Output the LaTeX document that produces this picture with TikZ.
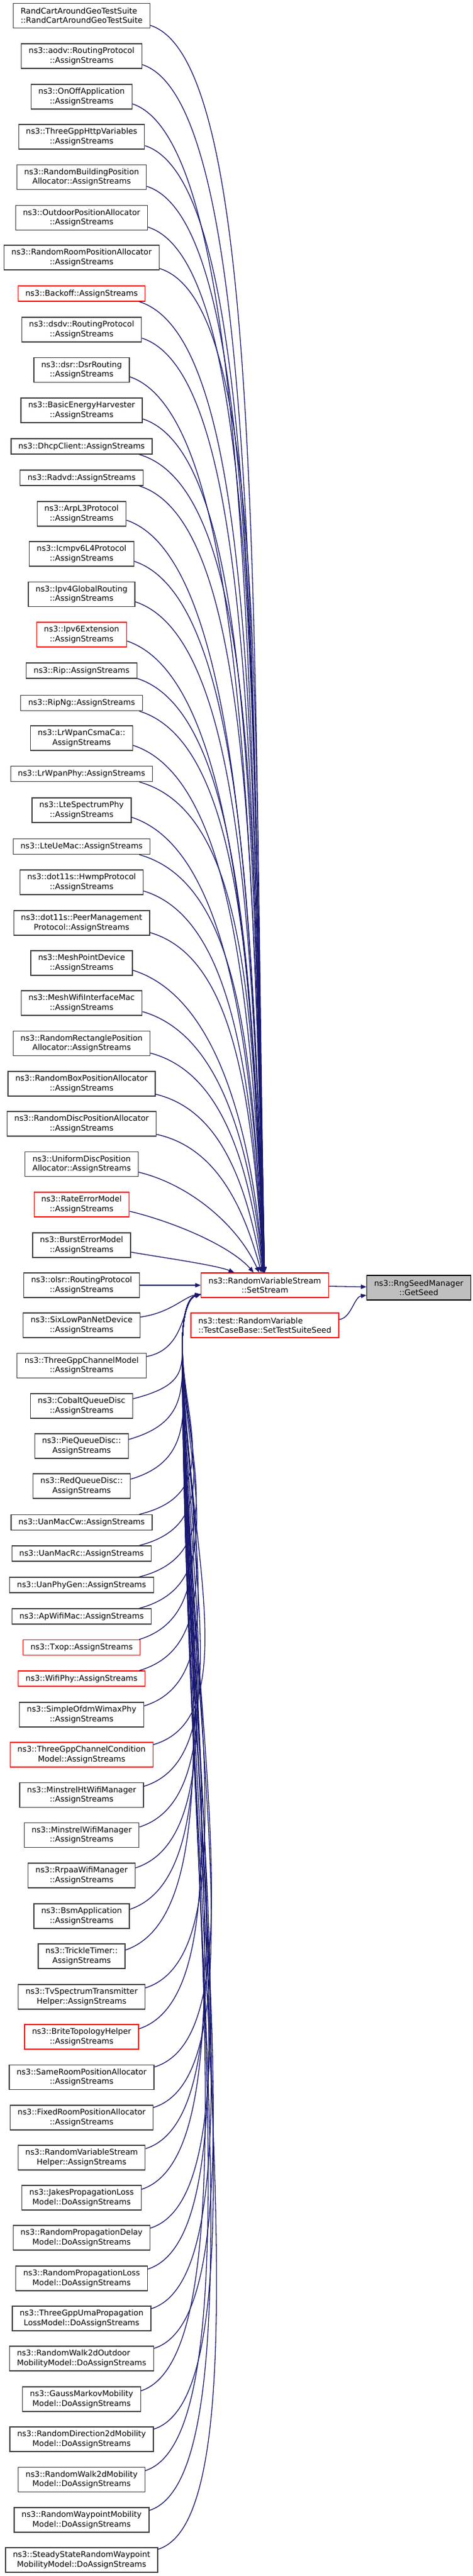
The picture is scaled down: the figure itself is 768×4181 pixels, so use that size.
\documentclass[tikz,border=0pt]{standalone}
\usepackage{fontspec}
\setmainfont{DejaVu Sans}
\usepackage{tikz}
\usetikzlibrary{arrows.meta}
\usetikzlibrary{calc}
\definecolor{midblue}{HTML}{191970}
\definecolor{boxgrey}{HTML}{404040}
\definecolor{focusgrey}{HTML}{BFBFBF}

\begin{document}
\begin{tikzpicture}[
    x=1pt, y=-1pt,
    fn/.style={draw=boxgrey, line width=1.3pt, fill=white, align=center,
      inner xsep=12pt, inner ysep=6pt, minimum height=25pt,
      font=\fontsize{12.8}{15.3}\selectfont},
    fn2/.style={fn, minimum height=40pt},
    cut/.style={draw=red},
    focus/.style={draw=black, fill=focusgrey},
    call/.style={>={Triangle[length=9pt,width=7pt]}, <-, draw=midblue, line width=1.3pt}
    ]
    \useasboundingbox (0,0) rectangle (768,4181);

    % callers of SetStream
    \node[fn2, align=left] (randcart) at (132.5,25.5) {RandCartAroundGeoTestSuite\\::RandCartAroundGeoTestSuite};
    \node[fn2] (aodv) at (132.5,91) {ns3::aodv::RoutingProtocol\\::AssignStreams};
    \node[fn2] (onoff) at (132.5,157) {ns3::OnOffApplication\\::AssignStreams};
    \node[fn2] (httpvar) at (132.5,222) {ns3::ThreeGppHttpVariables\\::AssignStreams};
    \node[fn2] (buildpos) at (132.5,287.5) {ns3::RandomBuildingPosition\\Allocator::AssignStreams};
    \node[fn2] (outdoor) at (132.5,353.5) {ns3::OutdoorPositionAllocator\\::AssignStreams};
    \node[fn2] (roompos) at (132.5,418) {ns3::RandomRoomPositionAllocator\\::AssignStreams};
    \node[fn, cut] (backoff) at (132.5,476.5) {ns3::Backoff::AssignStreams};
    \node[fn2] (dsdv) at (132.5,535) {ns3::dsdv::RoutingProtocol\\::AssignStreams};
    \node[fn2] (dsr) at (132.5,600.5) {ns3::dsr::DsrRouting\\::AssignStreams};
    \node[fn2] (harvester) at (132.5,666) {ns3::BasicEnergyHarvester\\::AssignStreams};
    \node[fn] (dhcp) at (132.5,724.5) {ns3::DhcpClient::AssignStreams};
    \node[fn] (radvd) at (132.5,775.5) {ns3::Radvd::AssignStreams};
    \node[fn2] (arp) at (132.5,834) {ns3::ArpL3Protocol\\::AssignStreams};
    \node[fn2] (icmp) at (132.5,899) {ns3::Icmpv6L4Protocol\\::AssignStreams};
    \node[fn2] (ipv4gr) at (132.5,964.5) {ns3::Ipv4GlobalRouting\\::AssignStreams};
    \node[fn2, cut] (ipv6ext) at (132.5,1030) {ns3::Ipv6Extension\\::AssignStreams};
    \node[fn] (rip) at (132.5,1088.5) {ns3::Rip::AssignStreams};
    \node[fn] (ripng) at (132.5,1141) {ns3::RipNg::AssignStreams};
    \node[fn2] (csmaca) at (132.5,1198) {ns3::LrWpanCsmaCa::\\AssignStreams};
    \node[fn] (lrphy) at (132.5,1256) {ns3::LrWpanPhy::AssignStreams};
    \node[fn2] (ltephy) at (132.5,1315) {ns3::LteSpectrumPhy\\::AssignStreams};
    \node[fn] (uemac) at (132.5,1374) {ns3::LteUeMac::AssignStreams};
    \node[fn2] (hwmp) at (132.5,1432) {ns3::dot11s::HwmpProtocol\\::AssignStreams};
    \node[fn2] (peer) at (132.5,1498) {ns3::dot11s::PeerManagement\\Protocol::AssignStreams};
    \node[fn2] (meshpoint) at (132.5,1563) {ns3::MeshPointDevice\\::AssignStreams};
    \node[fn2] (meshmac) at (132.5,1628) {ns3::MeshWifiInterfaceMac\\::AssignStreams};
    \node[fn2] (rectpos) at (132.5,1693.5) {ns3::RandomRectanglePosition\\Allocator::AssignStreams};
    \node[fn2] (boxpos) at (132.5,1759) {ns3::RandomBoxPositionAllocator\\::AssignStreams};
    \node[fn2] (discpos) at (132.5,1824) {ns3::RandomDiscPositionAllocator\\::AssignStreams};
    \node[fn2] (unidisc) at (132.5,1889.5) {ns3::UniformDiscPosition\\Allocator::AssignStreams};
    \node[fn2, cut] (rateerr) at (132.5,1955) {ns3::RateErrorModel\\::AssignStreams};
    \node[fn2] (bursterr) at (132.5,2021) {ns3::BurstErrorModel\\::AssignStreams};
    \node[fn2] (olsr) at (132.5,2086) {ns3::olsr::RoutingProtocol\\::AssignStreams};
    \node[fn2] (sixlow) at (132.5,2151) {ns3::SixLowPanNetDevice\\::AssignStreams};
    \node[fn2] (chanmodel) at (132.5,2216.5) {ns3::ThreeGppChannelModel\\::AssignStreams};
    \node[fn2] (cobalt) at (132.5,2282) {ns3::CobaltQueueDisc\\::AssignStreams};
    \node[fn2] (pie) at (132.5,2347) {ns3::PieQueueDisc::\\AssignStreams};
    \node[fn2] (redq) at (132.5,2412) {ns3::RedQueueDisc::\\AssignStreams};
    \node[fn] (uancw) at (132.5,2471) {ns3::UanMacCw::AssignStreams};
    \node[fn] (uanrc) at (132.5,2521.5) {ns3::UanMacRc::AssignStreams};
    \node[fn] (uanphy) at (132.5,2572.5) {ns3::UanPhyGen::AssignStreams};
    \node[fn] (apmac) at (132.5,2623.5) {ns3::ApWifiMac::AssignStreams};
    \node[fn, cut] (txop) at (132.5,2674) {ns3::Txop::AssignStreams};
    \node[fn, cut] (wifiphy) at (132.5,2724.5) {ns3::WifiPhy::AssignStreams};
    \node[fn2] (wimax) at (132.5,2783) {ns3::SimpleOfdmWimaxPhy\\::AssignStreams};
    \node[fn2, cut] (chancond) at (132.5,2848) {ns3::ThreeGppChannelCondition\\Model::AssignStreams};
    \node[fn2] (minstrelht) at (132.5,2913.5) {ns3::MinstrelHtWifiManager\\::AssignStreams};
    \node[fn2] (minstrel) at (132.5,2978.5) {ns3::MinstrelWifiManager\\::AssignStreams};
    \node[fn2] (rrpaa) at (132.5,3044) {ns3::RrpaaWifiManager\\::AssignStreams};
    \node[fn2] (bsm) at (132.5,3110) {ns3::BsmApplication\\::AssignStreams};
    \node[fn2] (trickle) at (132.5,3175) {ns3::TrickleTimer::\\AssignStreams};
    \node[fn2] (tvspec) at (132.5,3241) {ns3::TvSpectrumTransmitter\\Helper::AssignStreams};
    \node[fn2, cut] (brite) at (132.5,3306) {ns3::BriteTopologyHelper\\::AssignStreams};
    \node[fn2] (sameroom) at (132.5,3371.5) {ns3::SameRoomPositionAllocator\\::AssignStreams};
    \node[fn2] (fixedroom) at (132.5,3437) {ns3::FixedRoomPositionAllocator\\::AssignStreams};
    \node[fn2] (rvshelper) at (132.5,3502) {ns3::RandomVariableStream\\Helper::AssignStreams};
    \node[fn2] (jakes) at (132.5,3567) {ns3::JakesPropagationLoss\\Model::DoAssignStreams};
    \node[fn2] (propdelay) at (132.5,3632) {ns3::RandomPropagationDelay\\Model::DoAssignStreams};
    \node[fn2] (proploss) at (132.5,3698) {ns3::RandomPropagationLoss\\Model::DoAssignStreams};
    \node[fn2] (uma) at (132.5,3763) {ns3::ThreeGppUmaPropagation\\LossModel::DoAssignStreams};
    \node[fn2, align=left] (walkout) at (132.5,3828) {ns3::RandomWalk2dOutdoor\\MobilityModel::DoAssignStreams};
    \node[fn2] (gauss) at (132.5,3894) {ns3::GaussMarkovMobility\\Model::DoAssignStreams};
    \node[fn2] (direction) at (132.5,3959) {ns3::RandomDirection2dMobility\\Model::DoAssignStreams};
    \node[fn2] (walk) at (132.5,4024.5) {ns3::RandomWalk2dMobility\\Model::DoAssignStreams};
    \node[fn2] (waypoint) at (132.5,4090) {ns3::RandomWaypointMobility\\Model::DoAssignStreams};
    \node[fn2] (steady) at (132.5,4155) {ns3::SteadyStateRandomWaypoint\\MobilityModel::DoAssignStreams};

    % callees
    \node[fn2, cut] (set) at (430,2086) {ns3::RandomVariableStream\\::SetStream};
    \node[fn2, cut, align=left] (seedtest) at (430,2151) {ns3::test::RandomVariable\\::TestCaseBase::SetTestSuiteSeed};
    \node[fn2, focus] (getseed) at (680,2090) {ns3::RngSeedManager\\::GetSeed};

    % calls from above, into the top of SetStream
    \foreach \nm/\y in {randcart/25.5, aodv/91, onoff/157, httpvar/222, buildpos/287.5,
        outdoor/353.5, roompos/418, backoff/476.5, dsdv/535, dsr/600.5, harvester/666,
        dhcp/724.5, radvd/775.5, arp/834, icmp/899, ipv4gr/964.5, ipv6ext/1030,
        rip/1088.5, ripng/1141, csmaca/1198, lrphy/1256, ltephy/1315, uemac/1374,
        hwmp/1432, peer/1498, meshpoint/1563, meshmac/1628, rectpos/1693.5,
        boxpos/1759, discpos/1824, unidisc/1889.5, rateerr/1955, bursterr/2021} {
      \pgfmathsetmacro{\dy}{2086-\y}
      \pgfmathsetmacro{\kx}{30+160*(1-exp(-min(\dy/500,6)))}
      \pgfmathsetmacro{\ky}{0.4*\kx}
      \pgfmathsetmacro{\qx}{410-90*exp(-min(\dy/150,6))}
      \pgfmathsetmacro{\qy}{2086-0.5*\dy}
      \draw[call] (set) .. controls (\qx,\qy) and ($(\nm.east)+(\kx,\ky)$) .. (\nm.-8);
    }
    \draw[call] (set) -- (olsr);
    % calls from below, round the left of the test node
    \draw[call] (set.188) .. controls (300,2104) and (277,2131) .. (sixlow.8);
    \draw[call] (set.188) .. controls (295,2110) and (304,2190) .. (chanmodel.8);
    \foreach \nm/\y in {cobalt/2282, pie/2347, redq/2412,
        uancw/2471, uanrc/2521.5, uanphy/2572.5, apmac/2623.5, txop/2674,
        wifiphy/2724.5, wimax/2783, chancond/2848, minstrelht/2913.5,
        minstrel/2978.5, rrpaa/3044, bsm/3110, trickle/3175, tvspec/3241,
        brite/3306, sameroom/3371.5, fixedroom/3437, rvshelper/3502, jakes/3567,
        propdelay/3632, proploss/3698, uma/3763, walkout/3828, gauss/3894,
        direction/3959, walk/4024.5, waypoint/4090, steady/4155} {
      \pgfmathsetmacro{\dy}{\y-2086}
      \pgfmathsetmacro{\kx}{30+160*(1-exp(-min(\dy/500,6)))}
      \pgfmathsetmacro{\ky}{-0.4*\kx}
      \pgfmathsetmacro{\qy}{2178+0.45*(\y-2178)}
      \draw[call] (set.188) .. controls (306,2106) and (297,2130) .. (296,2178)
        .. controls (296,\qy) and ($(\nm.east)+(\kx,\ky)$) .. (\nm.8);
    }

    % calls of GetSeed
    \draw[call] (getseed) -- (set);
    \draw[call] (getseed) .. controls (575,2105) and (570,2140) .. (seedtest);
\end{tikzpicture}
\end{document}
